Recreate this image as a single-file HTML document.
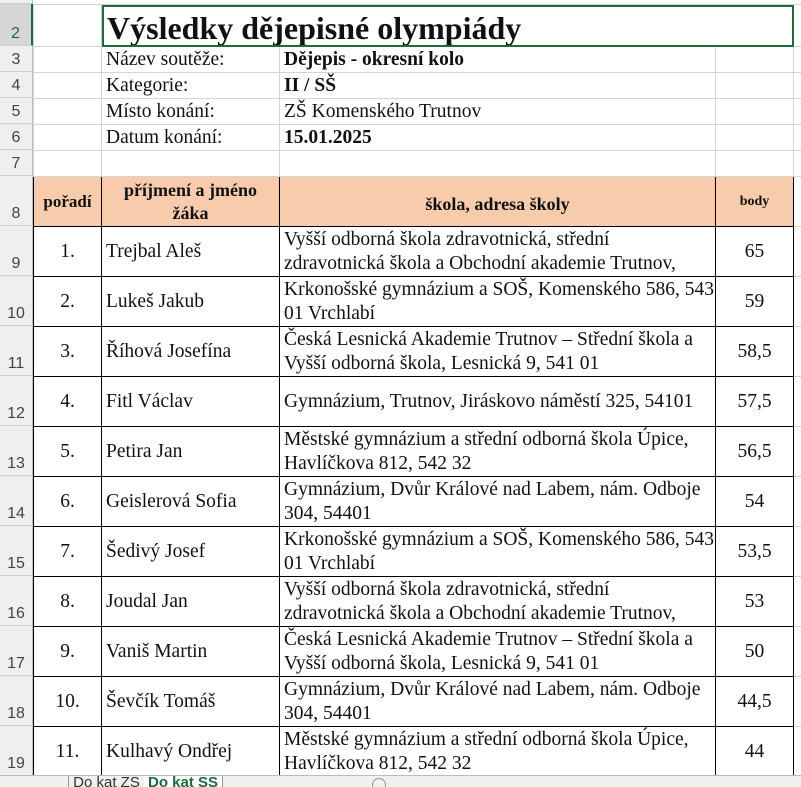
<!DOCTYPE html>
<html><head><meta charset="utf-8"><style>
body{margin:0;width:801px;height:786px;overflow:hidden;background:#fff;position:relative;font-family:"Liberation Serif",serif;}
.rh{position:absolute;left:0;width:33px;background:#efefef;border-right:1px solid #bdbdbd;border-bottom:1px solid #d0d0d0;box-sizing:border-box;font-family:"Liberation Sans",sans-serif;font-size:16px;color:#444;text-align:center;display:flex;align-items:flex-end;justify-content:center;padding-bottom:2px}
table{position:absolute;left:33px;top:4px;border-collapse:collapse;table-layout:fixed;width:770px;}
td{border:1px solid #d4d4d4;padding:0 4px;font-size:19.5px;color:#111;white-space:nowrap;overflow:hidden;line-height:24px;}
.d td{border:1px solid #000;}
.d td.x{border:1px solid #d4d4d4;border-left:1px solid #000;}
.c{text-align:center}
.h td{background:#f8cbad;font-weight:bold;text-align:center;}
.b{font-weight:bold}
</style></head><body>
<table>
<colgroup><col style="width:68px"><col style="width:178px"><col style="width:436px"><col style="width:78px"><col style="width:10px"></colgroup>
<tr style="height:42px"><td></td><td colspan="3" style="overflow:visible;font-size:32px;font-weight:bold;line-height:36px;vertical-align:bottom;padding-left:5px;outline:2px solid #1d6b3d;outline-offset:-2px">Výsledky dějepisné olympiády</td><td></td></tr>
<tr style="height:26px"><td></td><td>Název soutěže:</td><td class="b">Dějepis - okresní kolo</td><td></td><td></td></tr>
<tr style="height:26px"><td></td><td>Kategorie:</td><td class="b">II / SŠ</td><td></td><td></td></tr>
<tr style="height:26px"><td></td><td>Místo konání:</td><td>ZŠ Komenského Trutnov</td><td></td><td></td></tr>
<tr style="height:26px"><td></td><td>Datum konání:</td><td class="b">15.01.2025</td><td></td><td></td></tr>
<tr style="height:26px"><td></td><td></td><td></td><td></td><td></td></tr>
<tbody class="d">
<tr class="h" style="height:50px"><td style="font-size:17px;padding:0">pořadí</td><td style="font-size:18px;line-height:23px">příjmení a jméno<br>žáka</td><td style="font-size:18px;padding-top:4px">škola, adresa školy</td><td style="font-size:14px">body</td><td class="x" style="background:#fff"></td></tr>
<tr style="height:50px"><td class="c">1.</td><td>Trejbal Aleš</td><td>Vyšší odborná škola zdravotnická, střední<br>zdravotnická škola a Obchodní akademie Trutnov,</td><td class="c">65</td><td class="x"></td></tr>
<tr style="height:50px"><td class="c">2.</td><td>Lukeš Jakub</td><td>Krkonošské gymnázium a SOŠ, Komenského 586, 543<br>01 Vrchlabí</td><td class="c">59</td><td class="x"></td></tr>
<tr style="height:50px"><td class="c">3.</td><td>Říhová Josefína</td><td>Česká Lesnická Akademie Trutnov – Střední škola a<br>Vyšší odborná škola, Lesnická 9, 541 01</td><td class="c">58,5</td><td class="x"></td></tr>
<tr style="height:50px"><td class="c">4.</td><td>Fitl Václav</td><td>Gymnázium, Trutnov, Jiráskovo náměstí 325, 54101</td><td class="c">57,5</td><td class="x"></td></tr>
<tr style="height:50px"><td class="c">5.</td><td>Petira Jan</td><td>Městské gymnázium a střední odborná škola Úpice,<br>Havlíčkova 812, 542 32</td><td class="c">56,5</td><td class="x"></td></tr>
<tr style="height:50px"><td class="c">6.</td><td>Geislerová Sofia</td><td>Gymnázium, Dvůr Králové nad Labem, nám. Odboje<br>304, 54401</td><td class="c">54</td><td class="x"></td></tr>
<tr style="height:50px"><td class="c">7.</td><td>Šedivý Josef</td><td>Krkonošské gymnázium a SOŠ, Komenského 586, 543<br>01 Vrchlabí</td><td class="c">53,5</td><td class="x"></td></tr>
<tr style="height:50px"><td class="c">8.</td><td>Joudal Jan</td><td>Vyšší odborná škola zdravotnická, střední<br>zdravotnická škola a Obchodní akademie Trutnov,</td><td class="c">53</td><td class="x"></td></tr>
<tr style="height:50px"><td class="c">9.</td><td>Vaniš Martin</td><td>Česká Lesnická Akademie Trutnov – Střední škola a<br>Vyšší odborná škola, Lesnická 9, 541 01</td><td class="c">50</td><td class="x"></td></tr>
<tr style="height:50px"><td class="c">10.</td><td>Ševčík Tomáš</td><td>Gymnázium, Dvůr Králové nad Labem, nám. Odboje<br>304, 54401</td><td class="c">44,5</td><td class="x"></td></tr>
<tr style="height:50px"><td class="c">11.</td><td>Kulhavý Ondřej</td><td>Městské gymnázium a střední odborná škola Úpice,<br>Havlíčkova 812, 542 32</td><td class="c">44</td><td class="x"></td></tr>
</tbody></table>
<div class="rh" style="top:0;height:4px;padding:0"></div>
<div class="rh" style="top:4px;height:42px;background:#d6d6d6;color:#1d6b3d;border-right:2px solid #1d6b3d">2</div>
<div class="rh" style="top:46px;height:26px">3</div>
<div class="rh" style="top:72px;height:26px">4</div>
<div class="rh" style="top:98px;height:26px">5</div>
<div class="rh" style="top:124px;height:26px">6</div>
<div class="rh" style="top:150px;height:26px">7</div>
<div class="rh" style="top:176px;height:50px">8</div>
<div class="rh" style="top:226px;height:50px">9</div>
<div class="rh" style="top:276px;height:50px">10</div>
<div class="rh" style="top:326px;height:50px">11</div>
<div class="rh" style="top:376px;height:50px">12</div>
<div class="rh" style="top:426px;height:50px">13</div>
<div class="rh" style="top:476px;height:50px">14</div>
<div class="rh" style="top:526px;height:50px">15</div>
<div class="rh" style="top:576px;height:50px">16</div>
<div class="rh" style="top:626px;height:50px">17</div>
<div class="rh" style="top:676px;height:50px">18</div>
<div class="rh" style="top:726px;height:50px">19</div>
<div style="position:absolute;left:0;top:775px;width:801px;height:11px;background:#f0f0f0;border-top:1px solid #bbb;overflow:hidden;font-family:'Liberation Sans',sans-serif;font-size:15px;">
<div style="position:absolute;left:68px;top:-1px;width:75px;height:14px;border:1px solid #999;border-top:none;text-align:center;color:#333;line-height:16px">Do kat ZŠ I</div>
<div style="position:absolute;left:144px;top:-1px;width:78px;height:14px;background:#fff;text-align:center;color:#1d6b3d;font-weight:bold;line-height:16px;border-right:1px solid #999">Do kat SŠ II</div>
<div style="position:absolute;left:372px;top:2px;width:12px;height:12px;border:1px solid #999;border-radius:50%"></div>
</div>
</body></html>
